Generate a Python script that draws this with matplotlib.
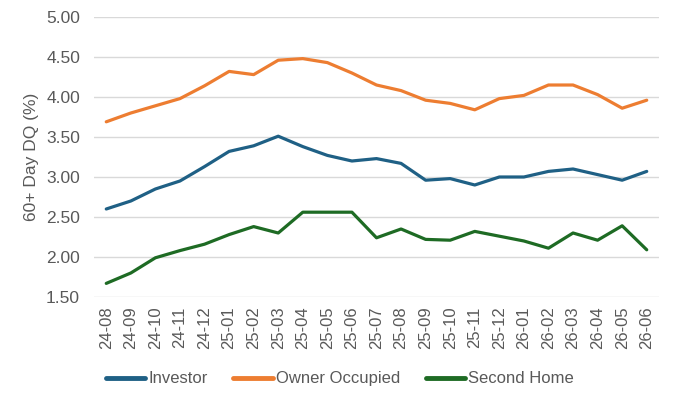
import matplotlib
matplotlib.use("Agg")
import matplotlib.pyplot as plt

plt.rcParams['font.family'] = ['Liberation Sans', 'DejaVu Sans']

months = ['24-08', '24-09', '24-10', '24-11', '24-12', '25-01', '25-02', '25-03',
          '25-04', '25-05', '25-06', '25-07', '25-08', '25-09', '25-10', '25-11',
          '25-12', '26-01', '26-02', '26-03', '26-04', '26-05', '26-06']
investor = [2.60, 2.70, 2.85, 2.95, 3.13, 3.32, 3.39, 3.51, 3.38, 3.27, 3.20, 3.23,
            3.17, 2.96, 2.98, 2.90, 3.00, 3.00, 3.07, 3.10, 3.03, 2.96, 3.07]
owner = [3.69, 3.80, 3.89, 3.98, 4.14, 4.32, 4.28, 4.46, 4.48, 4.43, 4.30, 4.15,
         4.08, 3.96, 3.92, 3.84, 3.98, 4.02, 4.15, 4.15, 4.03, 3.86, 3.96]
second = [1.67, 1.80, 1.99, 2.08, 2.16, 2.28, 2.38, 2.30, 2.56, 2.56, 2.56, 2.24,
          2.35, 2.22, 2.21, 2.32, 2.26, 2.20, 2.11, 2.30, 2.21, 2.39, 2.09]

TXT = '#595959'
fig = plt.figure(figsize=(6.82, 4.07), dpi=100)
ax = fig.add_axes([0.1378, 0.2703, 0.8285, 0.6879])

x = range(len(months))
ax.plot(x, investor, color='#1f6085', lw=2.3, label='Investor', solid_capstyle='round')
ax.plot(x, owner, color='#ed7d31', lw=2.3, label='Owner Occupied', solid_capstyle='round')
ax.plot(x, second, color='#1e6b24', lw=2.3, label='Second Home', solid_capstyle='round')

ax.set_xlim(-0.5, len(months) - 0.5)
ax.set_ylim(1.5, 5.0)
ax.set_yticks([1.5, 2.0, 2.5, 3.0, 3.5, 4.0, 4.5, 5.0])
ax.set_yticklabels([f'{v:.2f}' for v in ax.get_yticks()], color=TXT, fontsize=12.5)
ax.set_xticks(list(x))
ax.set_xticklabels(months, rotation=90, color=TXT, fontsize=12)
ax.tick_params(axis='y', length=0, pad=10)
ax.tick_params(axis='x', length=0, pad=7)
ax.grid(axis='y', color='#d9d9d9', lw=1)
ax.set_axisbelow(True)
for s in ax.spines.values():
    s.set_visible(False)
ax.set_ylabel('60+ Day DQ (%)', color=TXT, fontsize=12.5, labelpad=5)

leg = fig.legend(loc='center left', bbox_to_anchor=(0.1554, 0.0688), ncol=3, frameon=False,
                 fontsize=12, handlelength=2.35, handletextpad=0.18, columnspacing=1.55,
                 borderpad=0, borderaxespad=0)
for t in leg.get_texts():
    t.set_color(TXT)
for h in leg.get_lines():
    h.set_linewidth(3.5)

fig.savefig('out.png', dpi=100)
